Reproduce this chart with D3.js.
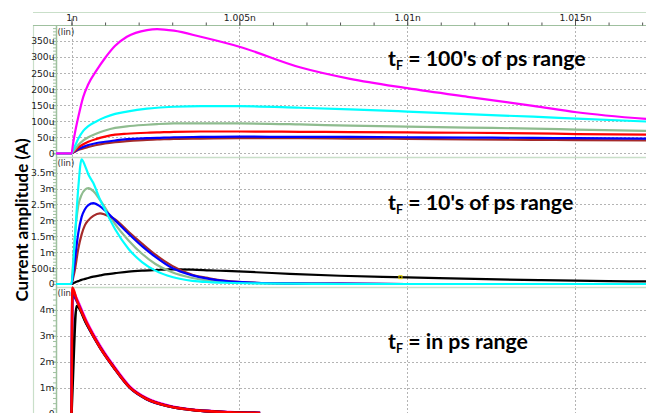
<!DOCTYPE html>
<html>
<head>
<meta charset="utf-8">
<script src="https://cdn.jsdelivr.net/npm/d3@7/dist/d3.min.js"></script>
<style>
  body { margin: 0; background: #fff; }
  svg { display: block; }
</style>
</head>
<body>
<svg id="chart" width="646" height="413"></svg>
<script>
// ---------- time axis (ps after 1 ns) ----------
const xTicks = [0, 5, 10, 15];
const xTickLabels = ["1n", "1.005n", "1.01n", "1.015n"];
const xMinorTicks = d3.range(0, 18, 1);

// ---------- panel 1 : tF = 100's of ps (values in µA) ----------
const p1Ticks = [0, 50, 100, 150, 200, 250, 300, 350];
const p1TickLabels = ["0", "50u", "100u", "150u", "200u", "250u", "300u", "350u"];
const p1Time    = [-0.46, 0, 0.05, 0.1, 0.2, 0.35, 0.5, 0.75, 1.0, 1.3, 1.65, 2.25, 2.55, 3.05, 3.85, 5.0, 6.8, 8.3, 10, 11.8, 13.75, 15.05, 17.12];
const p1Magenta = [0, 0, 33, 62, 112, 176, 215, 259, 297, 335, 363, 384, 387, 382, 363, 332, 268, 232, 203, 176, 148, 128, 107];
const p1Cyan    = [0, 0, 11, 22, 45, 70, 85, 100, 112, 123, 130, 139, 142, 145, 147, 147, 142, 137, 130, 122, 114, 108, 99];
const p1Gray    = [0, 0, 6, 12, 26, 40, 50, 62, 71, 79, 84, 89, 91, 93, 93, 93, 90, 86, 83, 80, 77, 74, 70];
const p1Red     = [0, 0, 4, 8, 18, 28, 36, 45, 52, 58, 61, 64, 65, 67, 68, 68, 67, 66, 65, 64, 62, 60, 58];
const p1Blue    = [0, 0, 3, 6, 13, 20, 26, 32, 36, 40, 44, 47, 48, 50, 51, 52, 51, 51, 50, 49, 48, 47, 46];
const p1Brown   = [0, 0, 2, 5, 10, 15, 20, 26, 31, 35, 38, 42, 43, 45, 46, 47, 47, 46, 45, 43, 42, 41, 40];

// ---------- panel 2 : tF = 10's of ps (values in mA) ----------
const p2Ticks = [0, 0.5, 1, 1.5, 2, 2.5, 3, 3.5];
const p2TickLabels = ["0", "500u", "1m", "1.5m", "2m", "2.5m", "3m", "3.5m"];
const p2Time  = [-0.46, 0, 0.05, 0.1, 0.2, 0.3, 0.4, 0.5, 0.65, 0.85, 1.0, 1.3, 1.7, 2.1, 2.5, 3.0, 3.6, 4.1, 4.6, 5.5, 6.5, 8, 10, 12, 14, 16, 17.12];
const p2Black = [0, 0, 0.02, 0.05, 0.09, 0.13, 0.16, 0.19, 0.23, 0.27, 0.30, 0.34, 0.39, 0.42, 0.44, 0.46, 0.45, 0.43, 0.41, 0.37, 0.32, 0.26, 0.21, 0.16, 0.12, 0.09, 0.08];
const p2Gray  = [0, 0, 0.7, 1.5, 2.45, 2.8, 2.96, 3.01, 2.92, 2.64, 2.40, 1.88, 1.37, 0.95, 0.63, 0.37, 0.19, 0.10, 0.06, 0.03, 0.01, 0, 0, 0, 0, 0, 0];
const p2Brown = [0, 0, 0.2, 0.44, 1.1, 1.55, 1.85, 2.0, 2.14, 2.22, 2.18, 2.03, 1.64, 1.27, 0.92, 0.57, 0.29, 0.18, 0.10, 0.04, 0.02, 0.01, 0, 0, 0, 0, 0];
const p2Blue  = [0, 0, 0.35, 0.75, 1.59, 2.1, 2.35, 2.48, 2.54, 2.44, 2.31, 2.0, 1.58, 1.19, 0.85, 0.50, 0.27, 0.16, 0.09, 0.04, 0.02, 0.01, 0, 0, 0, 0, 0];
const p2Cyan  = [0, 0, 0.6, 1.4, 3.0, 3.92, 3.72, 3.45, 3.17, 2.65, 2.33, 1.72, 1.10, 0.69, 0.42, 0.22, 0.10, 0.06, 0.04, 0.02, 0.01, 0, 0, 0, 0, 0, 0];
// cursor marker sitting on the black trace: [time ps, value mA]
const p2Cursor = [9.8, 0.215];

// ---------- panel 3 : tF in ps range (values in mA) ----------
const p3Ticks = [0, 1, 2, 3, 4];
const p3TickLabels = ["0", "1m", "2m", "3m", "4m"];
const p3Time    = [0, 0.03, 0.15, 0.45, 0.85, 1.25, 1.74, 2.24, 2.93, 3.73, 4.72, 5.62];
const p3Magenta = [0, 4.75, 4.45, 3.56, 2.62, 1.85, 1.04, 0.59, 0.29, 0.13, 0.06, 0.03];
const p3Blue    = [0, 4.6, 4.36, 3.47, 2.55, 1.79, 0.99, 0.55, 0.27, 0.12, 0.05, 0.02];
const p3Black   = [0, 1.0, 4.15, 3.45, 2.55, 1.80, 1.00, 0.56, 0.27, 0.12, 0.05, 0.02];
const p3Red     = [0, 4.85, 4.40, 3.50, 2.55, 1.80, 1.00, 0.56, 0.27, 0.12, 0.05, 0.02];

const C = {
  magenta: "#ff00ff", cyan: "#00ffff", gray: "#8fbc8f",
  red: "#ff0000", blue: "#0000ff", brown: "#a52a2a", black: "#000000"
};

const svg = d3.select("#chart");
const X0 = 56, X1 = 646;
const x = d3.scaleLinear().domain([-0.462, 17.115]).range([X0, X1]);

const panels = [
  { top: 26, bottom: 157, domain: [-11.5, 396.6], ticks: p1Ticks, labels: p1TickLabels, minorStep: 10,
    time: p1Time, width: 2.2,
    series: [[p1Brown, C.brown], [p1Blue, C.blue], [p1Red, C.red], [p1Gray, C.gray], [p1Cyan, C.cyan], [p1Magenta, C.magenta]],
    note: "100's of ps range", noteY: 66 },
  { top: 157, bottom: 287, domain: [-0.094, 3.99], ticks: p2Ticks, labels: p2TickLabels, minorStep: 0.1,
    time: p2Time, width: 2.2,
    series: [[p2Black, C.black], [p2Gray, C.gray], [p2Brown, C.brown], [p2Blue, C.blue], [p2Cyan, C.cyan]],
    cursor: p2Cursor,
    note: "10's of ps range", noteY: 209.5 },
  { top: 287, bottom: 417, domain: [-0.135, 4.884], ticks: p3Ticks, labels: p3TickLabels, minorStep: 0.2,
    time: p3Time, width: 2.6,
    series: [[p3Magenta, C.magenta], [p3Blue, C.blue], [p3Black, C.black], [p3Red, C.red]],
    note: "in ps range", noteY: 349 }
];

const frame = "#c9dfc9", axisCol = "#9fc09f";

// outer frame lines
svg.append("line").attr("x1", 33).attr("x2", X1).attr("y1", 12.5).attr("y2", 12.5)
  .attr("stroke", frame).attr("stroke-width", 1.2);
svg.append("line").attr("x1", 33.5).attr("x2", 33.5).attr("y1", 25).attr("y2", 413)
  .attr("stroke", frame).attr("stroke-width", 1.2);

panels.forEach(p => {
  const y = d3.scaleLinear().domain(p.domain).range([p.bottom, p.top]);
  const g = svg.append("g");

  // dotted grid
  g.selectAll(".hg").data(p.ticks).join("line")
    .attr("x1", X0).attr("x2", X1)
    .attr("y1", d => Math.round(y(d)) + 0.5).attr("y2", d => Math.round(y(d)) + 0.5)
    .attr("stroke", "#b4b4b4").attr("stroke-dasharray", "2,2");
  g.selectAll(".vg").data(xTicks).join("line")
    .attr("x1", d => Math.round(x(d)) + 0.5).attr("x2", d => Math.round(x(d)) + 0.5)
    .attr("y1", p.top + 1).attr("y2", p.bottom)
    .attr("stroke", "#b4b4b4").attr("stroke-dasharray", "2,2");

  // panel separator
  g.append("line").attr("x1", X0).attr("x2", X1).attr("y1", p.bottom + 0.5).attr("y2", p.bottom + 0.5)
    .attr("stroke", frame).attr("stroke-width", 1.5);

  // y axis: minor ticks, then labelled major ticks
  const minor = d3.range(p.ticks[0], p.domain[1], p.minorStep);
  const clipY = v => y(v) > p.top + 2 && y(v) < p.bottom - 1;
  g.append("g").attr("transform", `translate(${X0},0)`)
    .call(d3.axisLeft(y).tickValues(minor.filter(clipY)).tickSize(3).tickFormat(""))
    .call(a => a.select(".domain").remove())
    .call(a => a.selectAll("line").attr("stroke", axisCol));
  g.append("g").attr("transform", `translate(${X0},0)`)
    .call(d3.axisLeft(y).tickValues(p.ticks).tickSize(4).tickPadding(-2.5)
      .tickFormat((d, i) => p.labels[i]))
    .call(a => a.select(".domain").remove())
    .call(a => a.selectAll("line").attr("stroke", axisCol))
    .call(a => a.selectAll("text").attr("fill", "#222")
      .style("font-family", "DejaVu Sans").style("font-size", "9.2px"));
  g.append("line").attr("x1", X0 + 0.5).attr("x2", X0 + 0.5).attr("y1", p.top).attr("y2", p.bottom)
    .attr("stroke", axisCol).attr("stroke-width", 1.5);

  g.append("text").attr("x", X0 + 1.5).attr("y", p.top + 9)
    .attr("fill", "#2a2a2a").style("font-family", "DejaVu Sans").style("font-size", "8.5px")
    .text("(lin)");

  // traces
  const clipId = "clip" + p.top;
  svg.append("clipPath").attr("id", clipId).append("rect")
    .attr("x", X0).attr("y", p.top - 1).attr("width", X1 - X0).attr("height", p.bottom - p.top + 2);
  const line = d3.line().x((d, i) => x(p.time[i])).y(d => y(d)).curve(d3.curveMonotoneX);
  g.append("g").attr("clip-path", `url(#${clipId})`)
    .selectAll("path").data(p.series).join("path")
    .attr("d", d => line(d[0]))
    .attr("fill", "none").attr("stroke", d => d[1])
    .attr("stroke-width", p.width).attr("stroke-linejoin", "round");

  // measurement cursor
  if (p.cursor) {
    g.append("rect")
      .attr("x", x(p.cursor[0]) - 1.5).attr("y", y(p.cursor[1]) - 1.5)
      .attr("width", 3).attr("height", 3)
      .attr("fill", "none").attr("stroke", "#e0d000").attr("stroke-width", 1);
  }

  // range annotation
  const t = g.append("text").attr("x", 388).attr("y", p.noteY)
    .style("font-family", "Lato").style("font-weight", "bold").style("font-size", "21.3px")
    .attr("fill", "#000");
  t.append("tspan").text("t");
  t.append("tspan").attr("dy", 4).style("font-size", "12.5px").text("F");
  t.append("tspan").attr("dy", -4).text(" = " + p.note);
});

// top time axis
const timeAxis = svg.append("g").attr("transform", "translate(0,25.5)");
timeAxis.append("line").attr("x1", 33).attr("x2", X1).attr("stroke", axisCol).attr("stroke-width", 1.2);
timeAxis.append("g")
  .call(d3.axisTop(x).tickValues(xMinorTicks).tickSize(3).tickFormat(""))
  .call(a => a.select(".domain").remove())
  .call(a => a.selectAll("line").attr("stroke", "#555"));
timeAxis.append("g")
  .call(d3.axisTop(x).tickValues(xTicks).tickSize(7).tickPadding(-2)
    .tickFormat((d, i) => xTickLabels[i]))
  .call(a => a.select(".domain").remove())
  .call(a => a.selectAll("line").attr("stroke", "#555"))
  .call(a => a.selectAll("text").attr("fill", "#222")
    .style("font-family", "DejaVu Sans").style("font-size", "9.2px"));

// y axis title
svg.append("text")
  .attr("transform", "translate(27.5,220) rotate(-90)")
  .attr("text-anchor", "middle")
  .style("font-family", "Lato").style("font-weight", "bold").style("font-size", "17px")
  .text("Current amplitude (A)");
</script>
</body>
</html>
